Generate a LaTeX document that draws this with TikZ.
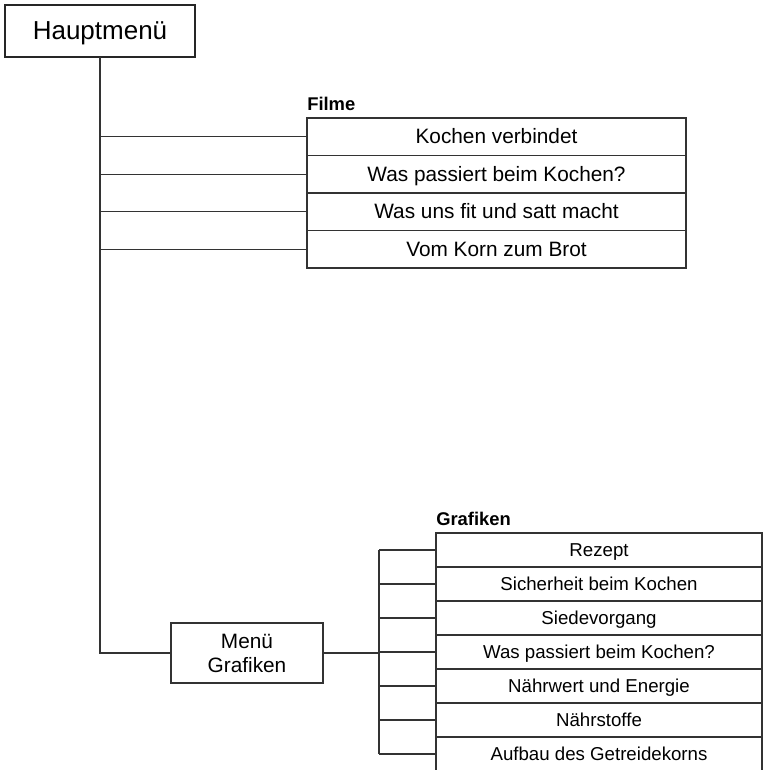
\documentclass[tikz,border=0pt]{standalone}
\usepackage{fontspec}
\setmainfont{Liberation Sans}
\begin{document}
\begin{tikzpicture}[x=0.75pt,y=-0.75pt,
  line/.style={draw=black!80, line width=0.9pt},
  rowbox/.style={draw=black!80, line width=0.9pt, inner sep=0pt, outer sep=0pt, align=center},
  filmrow/.style={rowbox, minimum width=284.25pt, minimum height=28.125pt, text height=13.5pt, text depth=3.3pt, font=\fontsize{15.6}{18}\selectfont},
  grafrow/.style={rowbox, minimum width=244.5pt, minimum height=25.5pt, text height=12.4pt, text depth=2.9pt, font=\fontsize{14}{16}\selectfont},
  lbl/.style={anchor=base west, inner sep=0pt, font=\bfseries\fontsize{13.8}{16}\selectfont}
]
\useasboundingbox[fill=white] (0,0) rectangle (764,770);

% main menu
\node[draw=black!85, line width=1.8pt, inner sep=0pt, outer sep=0pt, minimum width=142.5pt, minimum height=39pt,
      text height=17pt, text depth=4.1pt, font=\fontsize{19.5}{22}\selectfont] (hm) at (100,31) {Hauptmenü};

% Filme
\node[lbl] (lf) at (307,111) {Filme};
\node[filmrow] (f1) at (496.5,136.75) {Kochen verbindet};
\node[filmrow] (f2) at (496.5,174.25) {Was passiert beim Kochen?};
\node[filmrow] (f3) at (496.5,211.75) {Was uns fit und satt macht};
\node[filmrow] (f4) at (496.5,249.25) {Vom Korn zum Brot};

% Menü Grafiken
\node[rowbox, minimum width=114pt, minimum height=45pt, font=\fontsize{15.6}{18}\selectfont] (mg) at (247,653) {Menü\\Grafiken};

% Grafiken
\node[lbl] (lg) at (436,525) {Grafiken};
\node[grafrow] (g1) at (599,550) {Rezept};
\node[grafrow] (g2) at (599,584) {Sicherheit beim Kochen};
\node[grafrow] (g3) at (599,618) {Siedevorgang};
\node[grafrow] (g4) at (599,652) {Was passiert beim Kochen?};
\node[grafrow] (g5) at (599,686) {Nährwert und Energie};
\node[grafrow] (g6) at (599,720) {Nährstoffe};
\node[grafrow] (g7) at (599,754) {Aufbau des Getreidekorns};

% trunk
\draw[line, line width=1.4pt] (hm.south) -- (hm.south |- mg.west) -- (mg.west);
\foreach \n in {f1,f2,f3,f4}{
  \draw[line] (hm.south |- \n.west) -- (\n.west);
}

% comb
\coordinate (cx) at (379,653);
\draw[line, line width=1.4pt] (mg.east) -- (cx);
\draw[line] (cx |- g1.west) -- (cx |- g7.west);
\foreach \n in {g1,g2,g3,g4,g5,g6,g7}{
  \draw[line] (cx |- \n.west) -- (\n.west);
}
\end{tikzpicture}
\end{document}
